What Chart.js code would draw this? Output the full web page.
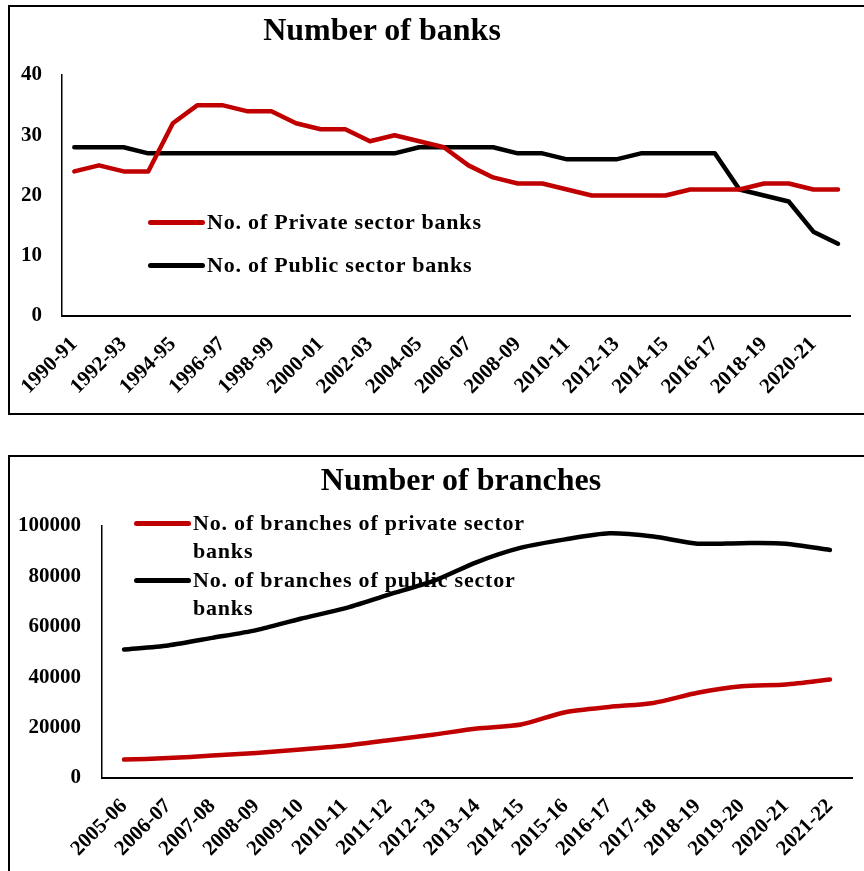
<!DOCTYPE html>
<html>
<head>
<meta charset="utf-8">
<script src="https://cdn.jsdelivr.net/npm/chart.js"></script>
<title>Number of banks and branches</title>
<style>
	body {
		margin: 0;
		width: 864px;
		height: 871px;
		overflow: hidden;
		position: relative;
		background: #fff;
		font-family: "Liberation Serif", "Times New Roman", serif;
		color: #000;
	}
	.box {
		position: absolute;
		border: 2px solid #000;
	}
	#box1 { left: 8px; top: 5px; width: 870px; height: 406px; }
	#box2 { left: 8px; top: 455px; width: 870px; height: 430px; }
	canvas { position: absolute; left: 0; }
	#chart1 { top: 0; }
	#chart2 { top: 456px; }
	.title {
		position: absolute;
		font-weight: bold;
		font-size: 32px;
		white-space: nowrap;
		transform: translate(-50%, -50%);
	}
	.legend {
		position: absolute;
		font-weight: bold;
		font-size: 22px;
		letter-spacing: 0.8px;
	}
	.legend .item {
		display: flex;
		align-items: flex-start;
	}
	.legend .swatch {
		width: 57px;
		height: 5px;
		border-radius: 3px;
		margin-right: 2px;
		flex: none;
	}
	#legend1 { line-height: 26px; }
	#legend2 { line-height: 28px; }
</style>
</head>
<body>

<div class="box" id="box1"></div>
<div class="box" id="box2"></div>

<canvas id="chart1" width="864" height="412"></canvas>
<canvas id="chart2" width="864" height="415"></canvas>

<div class="title" style="left:382px; top:29px;">Number of banks</div>
<div class="title" style="left:461px; top:479px;">Number of branches</div>

<div class="legend" id="legend1" style="left:148px; top:209px;"></div>
<div class="legend" id="legend2" style="left:134px; top:509px;"></div>

<script>

// years for the number of banks chart
var bankYears = ['1990-91','1991-92','1992-93','1993-94','1994-95','1995-96','1996-97','1997-98',
	'1998-99','1999-00','2000-01','2001-02','2002-03','2003-04','2004-05','2005-06',
	'2006-07','2007-08','2008-09','2009-10','2010-11','2011-12','2012-13','2013-14',
	'2014-15','2015-16','2016-17','2017-18','2018-19','2019-20','2020-21','2021-22']

var privateBanks = [24,25,24,24,32,35,35,34,34,32,31,31,29,30,29,28,
	25,23,22,22,21,20,20,20,20,21,21,21,22,22,21,21]

var publicBanks = [28,28,28,27,27,27,27,27,27,27,27,27,27,27,28,28,
	28,28,27,27,26,26,26,27,27,27,27,21,20,19,14,12]

// years for the number of branches chart
var branchYears = ['2005-06','2006-07','2007-08','2008-09','2009-10','2010-11','2011-12','2012-13',
	'2013-14','2014-15','2015-16','2016-17','2017-18','2018-19','2019-20','2020-21','2021-22']

var privateBranches = [7300,7900,8900,9900,11300,12800,15000,17200,19600,21200,
	26100,28200,29800,33800,36400,37100,39100]

var publicBranches = [51000,52600,55600,58700,63200,67300,72800,78100,85700,91400,
	94700,97100,95800,93000,93200,93000,90500]

var RED = '#C00000'
var BLACK = '#000000'
var tickFont = {family: 'Liberation Serif', size: 21, weight: 'bold'}


function lineSet(label, data, color, tension){
	return {label: label, data: data, borderColor: color, backgroundColor: color,
		borderWidth: 4.5, pointRadius: 0, tension: tension,
		borderCapStyle: 'round', borderJoinStyle: 'round', fill: false}
}

// builds the options, yWidth and xHeight force the plot area where it is in the picture
function makeOptions(yMax, yStep, yWidth, yPad, xHeight, padTop, skipOdd){
	return {
		responsive: false,
		animation: false,
		layout: {padding: {left: 0, top: padTop, right: 12, bottom: 0}},
		plugins: {legend: {display: false}, title: {display: false}, tooltip: {enabled: false}},
		scales: {
			x: {
				offset: true,
				grid: {display: false},
				border: {display: true, color: BLACK, width: 2},
				ticks: {
					color: BLACK, font: tickFont, autoSkip: false,
					minRotation: 45, maxRotation: 45, padding: 8,
					callback: function(value, index){
						if (skipOdd && index % 2) return ''
						return this.getLabelForValue(value)
					}
				},
				afterFit: function(scale){ scale.height = xHeight }
			},
			y: {
				min: 0, max: yMax,
				grid: {display: false},
				border: {display: true, color: BLACK, width: 1.5},
				ticks: {color: BLACK, font: tickFont, stepSize: yStep, padding: yPad,
					callback: function(v){ return String(v) }},
				afterFit: function(scale){ scale.width = yWidth }
			}
		}
	}
}


var chart1 = new Chart(document.getElementById('chart1').getContext('2d'), {
	type: 'line',
	data: {
		labels: bankYears,
		datasets: [lineSet('No. of Private sector banks', privateBanks, RED, 0),
			lineSet('No. of Public sector banks', publicBanks, BLACK, 0)]
	},
	options: makeOptions(40, 10, 62, 12, 412 - 316, 75, true)
})

var chart2 = new Chart(document.getElementById('chart2').getContext('2d'), {
	type: 'line',
	data: {
		labels: branchYears,
		datasets: [lineSet('No. of branches of private sector banks', privateBranches, RED, 0.25),
			lineSet('No. of branches of public sector banks', publicBranches, BLACK, 0.25)]
	},
	options: makeOptions(100000, 20000, 102, 13, 415 - (778 - 456), 526 - 456, false)
})


// html legend drawn inside the plot, like in the picture
function buildLegend(chart, id, textWidth, gap, swTop){
	var box = document.getElementById(id)
	chart.data.datasets.forEach(function(ds, i){
		var item = document.createElement('div')
		item.className = 'item'
		if (i > 0) item.style.marginTop = gap + 'px'
		var sw = document.createElement('div')
		sw.className = 'swatch'
		sw.style.background = ds.borderColor
		sw.style.marginTop = swTop + 'px'
		var txt = document.createElement('div')
		txt.textContent = ds.label
		if (textWidth) txt.style.maxWidth = textWidth + 'px'
		item.appendChild(sw)
		item.appendChild(txt)
		box.appendChild(item)
	})
}

buildLegend(chart1, 'legend1', 0, 17, 11)
buildLegend(chart2, 'legend2', 345, 1, 12)

</script>
</body>
</html>
